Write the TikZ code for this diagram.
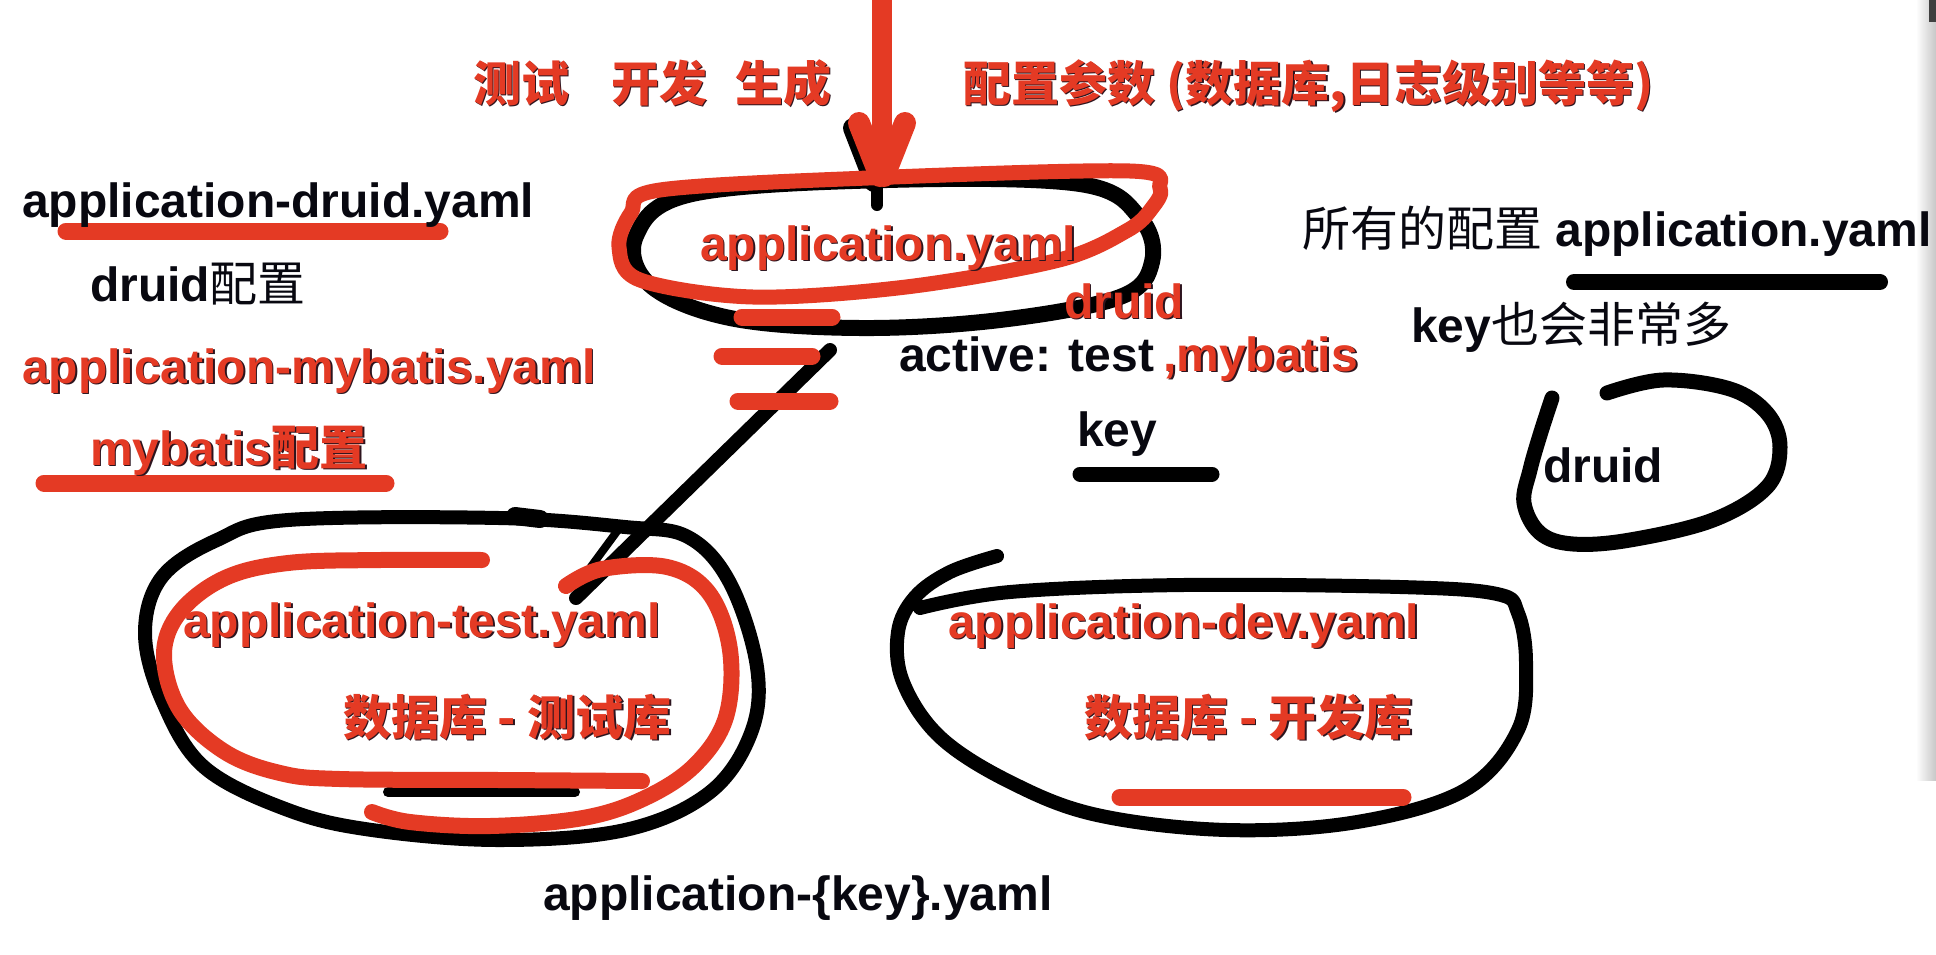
\documentclass[tikz,border=0pt]{standalone}
\usepackage{fontspec}
\setmainfont{Liberation Sans}
\newfontfamily\cjk{Noto Sans CJK SC}
\definecolor{rd}{RGB}{228,58,36}
\definecolor{shc}{RGB}{45,20,30}
\definecolor{ink}{RGB}{8,8,16}
\newcommand\shd[1]{\leavevmode\rlap{\kern1.8pt\raisebox{-1.8pt}{\color{shc}#1}}{\color{rd}#1}}
\tikzset{
  lat/.style={inner sep=0pt, outer sep=0pt, anchor=base west, text=ink,
              font=\fontsize{48}{56}\selectfont\bfseries},
  bl/.style={draw=black, line width=14, line cap=round, line join=round},
  rl/.style={draw=rd, line width=16, line cap=round, line join=round},
  bar/.style={draw=rd, line width=17, line cap=round},
  bbar/.style={draw=black, line width=15, line cap=round}
}
\begin{document}
\begin{tikzpicture}[x=1pt,y=-1pt]
\useasboundingbox (0,0) rectangle (1936,954);
\fill[white] (0,0) rectangle (1936,954);
% right window edge
\shade[left color=white, right color=black!22] (1916,0) rectangle (1936,780);
\fill[black!75] (1929,0) rectangle (1936,22);

% ---------- application.yaml ellipses and arrow ----------
\draw[bl, line width=16] plot[smooth cycle, tension=0.6] coordinates {(636,236) (692,194) (887,180) (1080,184) (1140,218) (1152,262) (1120,297) (1000,320) (860,328) (730,318) (650,285)};
% arrow head shadow
\draw[draw=black, line width=20, line cap=round] (853,128) -- (874,182);
\draw[draw=black, line width=12, line cap=round] (877,185) -- (877,205);
\draw[rl, line width=15] plot[smooth cycle, tension=0.55] coordinates {(660,190) (868,178) (1130,171) (1160,188) (1152,208) (1128,230) (1059,260) (906,287) (753,297) (640,280) (619,247) (631,213)};
\coordinate (atop) at (882,-10);
\coordinate (atip) at (882,176);
\draw[draw=rd, line width=20] (atop) -- (atip);
\draw[draw=rd, line width=22, line cap=round] (859,123) -- (880,176);
\draw[draw=rd, line width=22, line cap=round] (905,123) -- (884,176);

% hash marks and diagonal connector
\coordinate (d1) at (830,350);
\coordinate (d2) at (576,598);
\draw[bl] (d1) -- (d2);
\draw[bl, line width=8] (618,530) -- (590,568);
\draw[bar] (742,317) -- (832,317);
\draw[bar] (722,356) -- (812,356);
\draw[bar] (738,401) -- (830,401);

% ---------- test loop ----------
\draw[bl] plot[smooth cycle, tension=0.6] coordinates {(217,540) (288,520) (499,518) (625,527) (688,537) (730,583) (757,667) (751,733) (709,793) (625,830) (499,840) (372,830) (288,810) (204,767) (162,700) (145,633) (162,577)};
\draw[draw=black, line width=18, line cap=round] (515,516) -- (540,519);
\draw[draw=black, line width=10, line cap=round] (388,792) -- (575,792);
\draw[rl] plot[smooth, tension=0.6] coordinates {(482,560) (380,560) (288,563) (225,578) (180,612) (164,655) (180,710) (225,752) (280,773) (340,779) (500,780) (642,781)};
\draw[rl] plot[smooth, tension=0.6] coordinates {(566,586) (602,569) (667,567) (709,593) (730,650) (726,717) (695,765) (645,798) (583,818) (490,826) (410,822) (372,812)};

% ---------- dev loop ----------
\draw[bl] plot[smooth, tension=0.6] coordinates {(997,556) (950,572) (915,597) (898,632) (903,682) (940,737) (1010,782) (1097,815) (1227,830) (1357,822) (1465,790) (1518,730) (1526,663) (1518,613) (1497,594) (1400,587) (1183,585) (1010,592) (920,608)};
\draw[bar] (1120,797) -- (1403,797);

% ---------- right druid loop ----------
\draw[bl, line width=15] plot[smooth, tension=0.6] coordinates {(1552,398) (1540,435) (1530,470) (1524,503) (1540,533) (1573,544) (1630,540) (1713,520) (1767,487) (1780,447) (1767,413) (1730,389) (1663,380) (1607,393)};

% underlines
\draw[bar] (66,231) -- (440,231);
\draw[bar] (44,483) -- (386,483);
\draw[bbar] (1080,474) -- (1212,474);
\draw[bbar, line width=16] (1574,282) -- (1880,282);

% ---------- texts ----------
\node[lat] (t1) at (473,101) {\cjk\bfseries\shd{测试}\hspace{42pt}\shd{开发}\hspace{28pt}\shd{生成}};
\node[lat] (t2) at (963,101) {\cjk\bfseries\shd{配置参数 (数据库,日志级别等等)}};
\node[lat] (druidf) at (22,217) {application-druid.yaml};
\node[lat] (druidc) at (90,301) {druid{\cjk\mdseries 配置}};
\node[lat] (mybf) at (22,383) {\shd{application-mybatis.yaml}};
\node[lat] (mybc) at (90,465) {\shd{mybatis{\cjk 配置}}};
\node[lat] (app) at (700,260) {\shd{application.yaml}};
\node[lat] (druidr) at (1064,318) {\shd{druid}};
\node[lat] (active) at (899,371) {active: test\hspace{9pt}\shd{,mybatis}};
\node[lat] (key) at (1077,446) {key};
\node[lat] (test) at (183,637) {\shd{application-test.yaml}};
\node[lat] (testdb) at (343,735) {\cjk\shd{数据库 - 测试库}};
\node[lat] (dev) at (948,638) {\shd{application-dev.yaml}};
\node[lat] (devdb) at (1084,735) {\cjk\shd{数据库 - 开发库}};
\node[lat] (keyf) at (543,910) {application-\{key\}.yaml};
\node[lat] (all) at (1302,246) {{\cjk\mdseries 所有的配置} application.yaml};
\node[lat] (many) at (1411,342) {key{\cjk\mdseries 也会非常多}};
\node[lat] (druidk) at (1543,482) {druid};
\end{tikzpicture}
\end{document}
